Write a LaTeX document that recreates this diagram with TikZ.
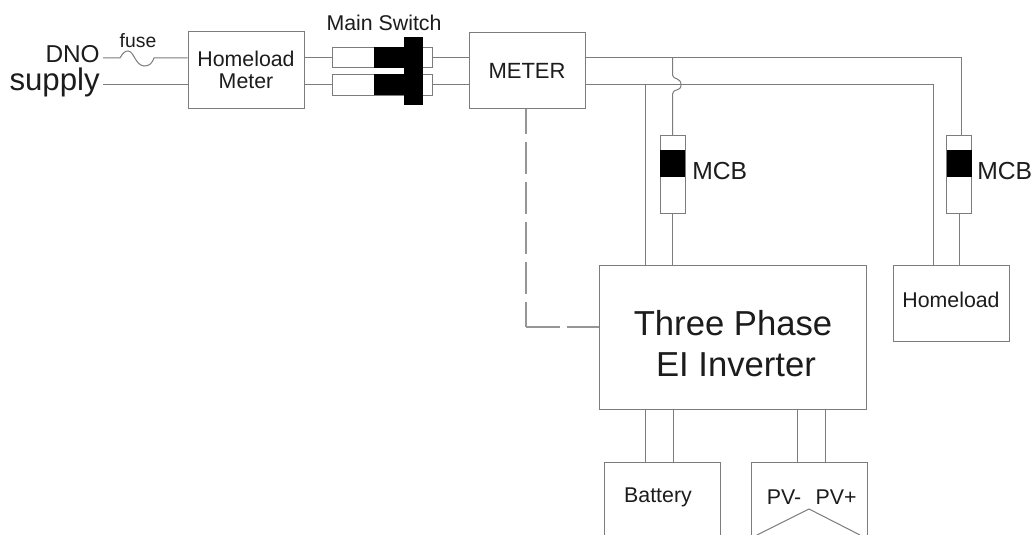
\documentclass[tikz,border=0pt]{standalone}
\usepackage{fontspec}
\setmainfont{Liberation Sans}
\definecolor{wirecol}{HTML}{7C7C7C}
\definecolor{labelcol}{HTML}{1C1C1C}
\tikzset {
  wire/.style = {
    draw = wirecol,
    line width = 0.75pt
  },
  % meter link
  dashwire/.style = {
    draw = wirecol!80,
    line width = 0.9pt,
    dash pattern = on 24pt off 6pt,
    dash phase = 5.25pt
  },
  dashrun/.style = {
    dashwire,
    dash pattern = on 25.5pt off 5.25pt,
    dash phase = 0pt
  }
}
\tikzset {
  box/.style = {
    draw = wirecol,
    line width = 0.75pt,
    rectangle,
    minimum width = 87pt,
    minimum height = 57.5pt,
    inner sep = 0,
    align = center,
    text = labelcol,
    font = \fontsize{16pt}{16.5pt}\selectfont
  },
  invbox/.style = {
    box,
    minimum width = 200pt,
    minimum height = 108pt
  },
  fuse label/.style = {
    text = labelcol,
    inner sep = 0,
    font = \fontsize{14.5pt}{16pt}\selectfont
  },
  tag/.style = {
    text = labelcol,
    inner sep = 0,
    font = \fontsize{16pt}{18pt}\selectfont
  },
  bigtag/.style = {
    text = labelcol,
    inner sep = 0,
    font = \fontsize{26pt}{28pt}\selectfont
  },
  breaker/.style = {
    draw = wirecol,
    line width = 0.75pt,
    fill = white,
    rectangle,
    inner sep = 0,
    minimum width = 18.75pt,
    minimum height = 57.75pt
  },
  blade/.style = {
    fill = black,
    rectangle,
    inner sep = 0
  },
  poleswitch/.style = {
    draw = wirecol,
    line width = 0.75pt,
    fill = white,
    rectangle,
    inner sep = 0,
    minimum width = 75pt,
    minimum height = 15.5pt
  }
}

\begin{document}
\begin{tikzpicture}[x = 0.75pt, y = -0.75pt]
    \clip (0, 0) rectangle (1033, 535);
    \fill[white] (0, 0) rectangle (1033, 535);

    % rows of the two supply wires
    \coordinate (row-a) at (0, 58);
    \coordinate (row-b) at (0, 85);

    \node[tag, anchor = east, font = \fontsize{18.3pt}{20pt}\selectfont] (dno) at (100, 54) {DNO};
    \node[tag, anchor = east, font = \fontsize{23.4pt}{24pt}\selectfont] (supply) at (100, 82) {supply};
    \node[fuse label] (fuse) at (138, 41) {fuse};
    \coordinate (dno-in) at (103, 58);
    \coordinate (supply-in) at (103, 85);
    \coordinate (fuse-in) at (120, 58);
    \coordinate (fuse-out) at (154, 58);

    \node[box] (hmeter) at (246, 70) {Homeload\\Meter};
    \node[box, font = \fontsize{16.5pt}{18pt}\selectfont] (meter) at (527, 70.5) {METER};
    \node[tag] (mainsw) at (384, 23) {Main Switch};

    \node[poleswitch] (pole-a) at (382, 57.5) {};
    \node[poleswitch] (pole-b) at (382, 85) {};
    \node[blade, minimum width = 22.5pt, minimum height = 15.75pt] (blade-a) at (389, 57.5) {};
    \node[blade, minimum width = 22.5pt, minimum height = 15.75pt] (blade-b) at (389, 85) {};
    \node[blade, minimum width = 14.25pt, minimum height = 51pt] (handle) at (413, 71.5) {};

    \node[breaker] (mcb-inv) at (672.5, 174.5) {};
    \node[blade, minimum width = 18.75pt, minimum height = 20.25pt] (mcb-inv-blade) at (672.5, 163.5) {};
    \node[tag, anchor = west, font = \fontsize{18.5pt}{20pt}\selectfont] (mcb-inv-tag) at (692, 171) {MCB};
    \node[breaker] (mcb-home) at (959, 174.5) {};
    \node[blade, minimum width = 18.75pt, minimum height = 20.25pt] (mcb-home-blade) at (959, 163.5) {};
    \node[tag, anchor = west, font = \fontsize{18.5pt}{20pt}\selectfont] (mcb-home-tag) at (977, 171) {MCB};

    \node[invbox] (inverter) at (733, 337) {};
    \node[bigtag] (inv-one) at (733, 323) {Three Phase};
    \node[bigtag] (inv-two) at (736, 365) {EI Inverter};
    \node[box] (homeload) at (951, 303.5) {};
    \node[tag] (homeload-tag) at (951, 300) {Homeload};

    \node[box, minimum height = 75pt] (battery) at (662, 512) {};
    \node[tag] (battery-tag) at (658, 497) {Battery};
    \node[box, minimum height = 75pt] (pv) at (809, 512) {};
    \node[tag] (pv-minus) at (784, 497) {PV-};
    \node[tag] (pv-plus) at (836, 497) {PV+};
    \coordinate (pv-peak) at (809, 509);

    \coordinate (top-corner) at (961, 58);
    \coordinate (low-corner) at (933, 85);
    \coordinate (hop-in) at (672.5, 75);
    \coordinate (hop-out) at (672.5, 94);
    \coordinate (dash-corner) at (526, 327);

    % supply side
    \draw[wire] (dno-in) -- (fuse-in)
    .. controls (123, 52) and (126, 51) .. (128, 51)
    .. controls (134, 51) and (135, 65) .. (144, 66)
    .. controls (150, 66) and (152, 63) .. (fuse-out)
    -- (hmeter.west |- row-a);
    \draw[wire] (supply-in) -- (hmeter.west |- row-b);
    \draw[wire] (hmeter.east |- row-a) -- (pole-a.west |- row-a);
    \draw[wire] (hmeter.east |- row-b) -- (pole-b.west |- row-b);
    \draw[wire] (pole-a.east |- row-a) -- (meter.west |- row-a);
    \draw[wire] (pole-b.east |- row-b) -- (meter.west |- row-b);

    % load side
    \draw[wire] (meter.east |- row-a) -- (top-corner) -- (top-corner |- mcb-home.north);
    \draw[wire] (meter.east |- row-b) -- (low-corner) -- (low-corner |- homeload.north);
    \draw[wire] (mcb-home.south) -- (mcb-home.south |- homeload.north);
    \draw[wire] (645, 85) -- (645, 265);
    \draw[wire] (mcb-inv.north |- row-a) -- (hop-in)
    .. controls (673, 80) and (681, 77) .. (681, 85)
    .. controls (681, 92) and (673, 88) .. (hop-out)
    -- (mcb-inv.north);
    \draw[wire] (mcb-inv.south) -- (mcb-inv.south |- inverter.north);

    \draw[dashwire] (meter.south -| dash-corner) -- (dash-corner);
    \draw[dashrun] (dash-corner) -- (dash-corner -| inverter.west);

    % dc side
    \draw[wire] (645, 409) -- (645, 462);
    \draw[wire] (673, 409) -- (673, 462);
    \draw[wire] (797, 409) -- (797, 462);
    \draw[wire] (825, 409) -- (825, 462);
    \draw[wire] (757, 535) -- (pv-peak) -- (860, 535);
  \end{tikzpicture}
\end{document}
